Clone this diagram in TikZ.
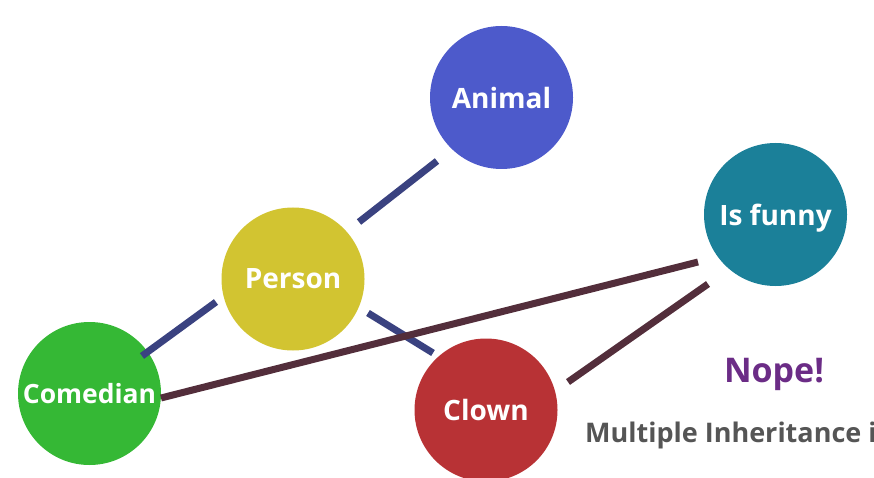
\documentclass[tikz,border=0pt]{standalone}
\usepackage{fontspec}
\setmainfont{Open Sans}
\usetikzlibrary{calc}
\definecolor{animalc}{HTML}{4D5ACB}
\definecolor{personc}{HTML}{D2C431}
\definecolor{comedianc}{HTML}{35B835}
\definecolor{clownc}{HTML}{B83235}
\definecolor{funnyc}{HTML}{1B8099}
\definecolor{bluelink}{HTML}{3A4280}
\definecolor{maroonlink}{HTML}{532E3B}
\definecolor{nopec}{HTML}{6B2C86}
\definecolor{greytext}{HTML}{555555}
\tikzset{
  ball/.style={circle, inner sep=0pt, minimum size=143pt, text=white, text depth=0pt,
    font=\bfseries\fontsize{28}{32}\selectfont},
  isa/.style={draw=bluelink, line width=7pt},
  trait/.style={draw=maroonlink, line width=7pt},
}
\begin{document}
\begin{tikzpicture}[x=1pt,y=-1pt]
\useasboundingbox (0,0) rectangle (874,478);
\clip (0,0) rectangle (874,478);
\node[ball, fill=animalc] (animal) at (501.5,97.5) {Animal};
\node[ball, fill=personc] (person) at (293,279) {Person};
\node[ball, fill=comedianc, font=\bfseries\fontsize{26.5}{30}\selectfont] (comedian) at (89.5,393.5) {Comedian};
\node[ball, fill=clownc] (clown) at (486,410) {Clown};
\node[ball, fill=funnyc] (funny) at (775.5,214.5) {Is funny};
\draw[isa] ($(animal)+(-64.5,63.5)$) -- ($(person)+(66,-57)$);
\draw[isa] ($(person)+(-77,23)$) -- ($(comedian)+(52.5,-37.5)$);
\draw[isa] ($(person)+(75,34)$) -- ($(clown)+(-53,-57)$);
\draw[trait] ($(funny)+(-77.5,47.5)$) -- ($(comedian)+(71.5,4.5)$);
\draw[trait] ($(funny)+(-67.5,69.5)$) -- ($(clown)+(82,-28)$);
\node[text=nopec, font=\bfseries\fontsize{34}{40}\selectfont] (nope) at (774,374) {Nope!};
\node[text=greytext, font=\bfseries\fontsize{27}{32}\selectfont, anchor=base west, inner sep=0pt] (multi) at (585,442) {Multiple Inheritance i};
\end{tikzpicture}
\end{document}
